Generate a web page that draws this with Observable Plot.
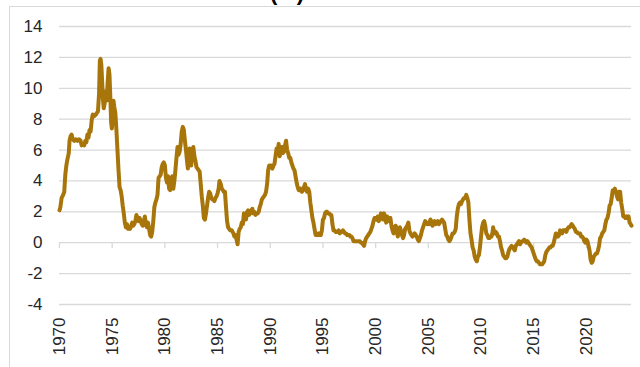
<!DOCTYPE html>
<html>
<head>
<meta charset="utf-8">
<script src="https://cdn.jsdelivr.net/npm/d3@7"></script>
<script src="https://cdn.jsdelivr.net/npm/@observablehq/plot@0.6"></script>
<style>
  html, body { margin: 0; padding: 0; background: #fff; }
  #wrap { position: relative; width: 640px; height: 367px; overflow: hidden; font-family: "Liberation Sans", Arial, sans-serif; }
  #frame { position: absolute; left: 9px; top: 6px; width: 800px; height: 500px; border-top: 1px solid #d9d9d9; border-left: 1px solid #d9d9d9; }
  #title { position: absolute; left: 187px; width: 200px; top: -18.5px; text-align: center; font-weight: bold; font-size: 22px; line-height: 22px; color: #000; }
  #chart { position: absolute; left: 0; top: 0; }
</style>
</head>
<body>
<div id="wrap">
  <div id="frame"></div>
  <div id="title">(%)</div>
  <div id="chart"></div>
</div>
<script>
const titleText = "(%)";
const xTicks = [1970, 1975, 1980, 1985, 1990, 1995, 2000, 2005, 2010, 2015, 2020];
const yTicks = [-4, -2, 0, 2, 4, 6, 8, 10, 12, 14];

const years = [
1970.0,1970.08,1970.2,1970.35,1970.45,1970.55,1970.65,1970.75,1970.88,1970.95,
1971.05,1971.15,1971.25,1971.4,1971.55,1971.7,1971.85,1972.0,1972.1,1972.2,
1972.35,1972.45,1972.55,1972.65,1972.75,1972.85,1972.95,1973.05,1973.15,1973.3,
1973.45,1973.55,1973.65,1973.75,1973.83,1973.9,1973.97,1974.05,1974.12,1974.2,
1974.28,1974.38,1974.48,1974.58,1974.66,1974.74,1974.82,1974.9,1974.97,1975.05,
1975.12,1975.2,1975.3,1975.4,1975.5,1975.6,1975.7,1975.8,1975.9,1976.0,
1976.1,1976.2,1976.3,1976.4,1976.5,1976.6,1976.7,1976.8,1976.9,1977.0,
1977.1,1977.2,1977.3,1977.4,1977.5,1977.6,1977.7,1977.8,1977.9,1978.0,
1978.1,1978.2,1978.3,1978.4,1978.5,1978.6,1978.7,1978.8,1978.9,1979.0,
1979.1,1979.2,1979.3,1979.4,1979.5,1979.6,1979.7,1979.8,1979.9,1980.0,
1980.1,1980.2,1980.3,1980.4,1980.5,1980.6,1980.7,1980.8,1980.9,1981.0,
1981.1,1981.2,1981.3,1981.4,1981.5,1981.6,1981.7,1981.8,1981.9,1982.0,
1982.1,1982.18,1982.26,1982.34,1982.42,1982.5,1982.6,1982.7,1982.8,1982.9,
1983.0,1983.1,1983.2,1983.3,1983.4,1983.5,1983.6,1983.7,1983.8,1983.9,
1984.0,1984.1,1984.2,1984.3,1984.4,1984.5,1984.6,1984.7,1984.8,1984.9,
1985.0,1985.1,1985.18,1985.3,1985.4,1985.5,1985.6,1985.7,1985.8,1985.9,
1986.0,1986.1,1986.2,1986.35,1986.5,1986.6,1986.7,1986.8,1986.9,1987.0,
1987.1,1987.2,1987.3,1987.4,1987.5,1987.6,1987.7,1987.8,1987.9,1988.0,
1988.1,1988.2,1988.3,1988.4,1988.5,1988.6,1988.7,1988.8,1988.9,1989.0,
1989.1,1989.2,1989.3,1989.4,1989.5,1989.6,1989.7,1989.8,1989.9,1990.0,
1990.1,1990.2,1990.3,1990.4,1990.5,1990.6,1990.7,1990.8,1990.9,1991.0,
1991.1,1991.2,1991.3,1991.4,1991.5,1991.6,1991.7,1991.8,1991.9,1992.0,
1992.1,1992.2,1992.3,1992.4,1992.5,1992.6,1992.7,1992.8,1992.9,1993.0,
1993.1,1993.2,1993.3,1993.4,1993.5,1993.6,1993.7,1993.8,1993.9,1994.0,
1994.1,1994.2,1994.3,1994.4,1994.5,1994.6,1994.7,1994.8,1994.9,1995.0,
1995.1,1995.2,1995.3,1995.4,1995.5,1995.6,1995.7,1995.8,1995.9,1996.0,
1996.1,1996.2,1996.3,1996.4,1996.5,1996.6,1996.7,1996.8,1996.9,1997.0,
1997.1,1997.2,1997.3,1997.4,1997.5,1997.6,1997.7,1997.8,1997.9,1998.0,
1998.1,1998.2,1998.3,1998.4,1998.5,1998.6,1998.7,1998.8,1998.9,1999.0,
1999.1,1999.2,1999.3,1999.4,1999.5,1999.6,1999.7,1999.8,1999.9,2000.0,
2000.1,2000.2,2000.3,2000.4,2000.5,2000.6,2000.7,2000.8,2000.9,2001.0,
2001.1,2001.2,2001.3,2001.4,2001.5,2001.6,2001.7,2001.8,2001.9,2002.0,
2002.1,2002.2,2002.3,2002.4,2002.5,2002.6,2002.7,2002.8,2002.9,2003.0,
2003.1,2003.2,2003.3,2003.4,2003.5,2003.6,2003.7,2003.8,2003.9,2004.0,
2004.1,2004.2,2004.3,2004.4,2004.5,2004.6,2004.7,2004.8,2004.9,2005.0,
2005.1,2005.2,2005.3,2005.4,2005.5,2005.6,2005.7,2005.8,2005.9,2006.0,
2006.1,2006.2,2006.3,2006.4,2006.5,2006.6,2006.7,2006.8,2006.9,2007.0,
2007.1,2007.2,2007.3,2007.4,2007.5,2007.6,2007.7,2007.8,2007.9,2008.0,
2008.1,2008.2,2008.3,2008.4,2008.5,2008.6,2008.7,2008.8,2008.9,2009.0,
2009.1,2009.2,2009.3,2009.4,2009.5,2009.6,2009.7,2009.8,2009.9,2010.0,
2010.1,2010.2,2010.3,2010.4,2010.5,2010.6,2010.7,2010.8,2010.9,2011.0,
2011.1,2011.15,2011.2,2011.3,2011.4,2011.5,2011.6,2011.7,2011.8,2011.9,
2012.0,2012.1,2012.2,2012.3,2012.4,2012.5,2012.6,2012.7,2012.8,2012.9,
2013.0,2013.1,2013.2,2013.3,2013.4,2013.5,2013.6,2013.7,2013.8,2013.9,
2014.0,2014.1,2014.2,2014.3,2014.4,2014.5,2014.6,2014.7,2014.8,2014.9,
2015.0,2015.1,2015.2,2015.3,2015.4,2015.5,2015.6,2015.7,2015.8,2015.9,
2016.0,2016.1,2016.2,2016.3,2016.4,2016.5,2016.6,2016.7,2016.8,2016.9,
2017.0,2017.1,2017.2,2017.3,2017.4,2017.5,2017.6,2017.7,2017.8,2017.9,
2018.0,2018.1,2018.2,2018.3,2018.4,2018.5,2018.6,2018.7,2018.8,2018.9,
2019.0,2019.1,2019.2,2019.3,2019.4,2019.5,2019.6,2019.7,2019.8,2019.9,
2020.0,2020.1,2020.2,2020.3,2020.4,2020.5,2020.6,2020.7,2020.8,2020.9,
2021.0,2021.1,2021.2,2021.3,2021.4,2021.5,2021.6,2021.7,2021.8,2021.9,
2022.0,2022.1,2022.2,2022.3,2022.4,2022.5,2022.6,2022.7,2022.8,2022.9,
2023.0,2023.1,2023.2,2023.3,2023.4,2023.5,2023.6,2023.7,2023.8,2023.9,
2024.0,2024.1,2024.2,2024.28
];

const cpi = [
2.1,2.3,2.9,3.1,3.3,4.4,5.0,5.4,5.8,6.6,
6.9,7.0,6.7,6.6,6.7,6.6,6.7,6.6,6.3,6.4,
6.3,6.6,6.5,7.0,6.8,7.3,7.2,7.9,8.3,8.2,
8.3,8.4,8.5,9.6,11.8,11.9,11.5,10.4,9.3,8.7,
9.0,9.8,9.2,10.5,11.3,10.9,9.5,7.8,7.4,8.2,
9.2,8.8,8.4,7.3,6.0,4.7,3.6,3.4,3.0,2.4,
1.9,1.3,1.0,1.2,0.9,1.0,0.9,1.1,1.3,1.1,
1.2,1.4,1.8,1.6,1.4,1.6,1.4,1.2,1.1,1.4,
1.7,1.2,1.0,1.3,0.9,0.5,0.4,0.7,1.4,2.3,
2.6,2.8,3.1,4.2,4.3,4.4,4.9,5.1,5.2,5.0,
4.2,3.9,4.3,3.5,3.4,4.1,4.3,3.5,4.0,4.7,
5.5,6.2,5.7,5.9,6.4,7.2,7.5,7.3,6.6,6.0,
5.3,4.8,5.7,6.1,5.6,5.0,5.9,6.2,5.6,5.3,
4.9,4.8,4.7,4.6,3.8,3.0,2.4,1.6,1.5,1.9,
2.4,2.9,3.3,3.2,2.9,2.8,2.8,2.7,2.9,3.0,
3.2,3.5,4.0,3.8,3.5,3.4,3.3,3.3,2.3,1.4,
1.0,0.9,0.8,0.8,0.6,0.4,0.5,0.2,-0.1,0.7,
0.9,1.0,1.3,1.2,1.9,1.8,1.5,2.0,2.1,1.8,
1.9,2.1,2.2,1.9,2.0,1.8,1.9,1.9,2.0,2.3,
2.5,2.8,2.9,3.0,3.1,3.3,3.8,4.7,5.0,4.9,
5.0,4.8,5.0,5.1,5.6,6.1,5.9,6.4,5.6,6.0,
6.2,5.8,5.9,6.3,6.6,6.0,5.8,5.5,5.5,5.2,
5.0,4.8,4.7,4.3,3.9,3.6,3.4,3.4,3.5,3.3,
3.4,3.6,3.8,3.4,3.3,3.5,3.3,2.6,2.1,1.6,
1.3,0.9,0.5,0.5,0.5,0.6,0.5,0.5,0.8,1.5,
1.6,1.9,2.0,2.0,1.9,1.9,1.8,1.8,1.2,0.8,
0.8,0.7,0.7,0.7,0.8,0.6,0.7,0.7,0.8,0.7,
0.6,0.6,0.5,0.5,0.5,0.4,0.4,0.3,0.1,0.1,
0.1,0.1,0.1,0.1,0.1,0.0,0.0,-0.1,-0.2,0.1,
0.3,0.4,0.5,0.6,0.7,0.9,1.1,1.4,1.6,1.6,
1.5,1.7,1.4,1.6,1.9,1.7,1.5,1.9,1.7,1.3,
1.7,1.5,1.4,1.6,1.1,0.8,0.6,0.9,1.1,0.9,
0.4,0.7,1.0,0.8,0.5,0.3,0.5,0.9,1.0,1.1,
1.3,0.8,0.6,0.5,0.4,0.5,0.6,0.5,0.4,0.2,
0.1,0.3,0.5,0.8,1.0,1.2,1.4,1.3,1.2,1.3,
1.2,1.5,1.4,1.1,1.3,1.4,1.2,1.3,1.4,1.2,
1.3,1.4,1.5,1.4,1.3,0.9,0.5,0.4,0.2,0.1,
0.2,0.4,0.6,0.6,0.7,0.9,1.7,2.2,2.5,2.6,
2.5,2.7,2.8,2.9,2.9,3.1,2.9,2.6,1.5,0.6,
0.2,-0.3,-0.5,-0.9,-1.1,-1.2,-0.9,-0.8,-0.3,0.4,
1.0,1.3,1.4,1.1,0.6,0.5,0.3,0.3,0.4,0.4,
0.7,1.0,0.8,0.6,0.7,0.6,0.4,0.4,0.1,-0.3,
-0.5,-0.8,-0.9,-1.0,-1.0,-0.9,-0.6,-0.4,-0.3,-0.2,
-0.3,-0.4,-0.5,-0.2,-0.1,0.0,0.1,-0.1,0.0,0.1,
0.1,0.2,0.1,0.0,0.1,0.0,-0.1,-0.2,-0.3,-0.5,
-0.7,-0.9,-1.1,-1.2,-1.2,-1.3,-1.4,-1.4,-1.4,-1.3,
-1.2,-0.8,-0.6,-0.5,-0.4,-0.3,-0.3,-0.2,-0.2,0.0,
0.3,0.6,0.5,0.4,0.5,0.8,0.7,0.6,0.8,0.8,
0.8,0.7,0.9,1.0,1.0,1.1,1.2,1.1,1.0,0.9,
0.7,0.7,0.6,0.6,0.6,0.4,0.4,0.3,0.1,0.0,
0.2,0.1,-0.2,-0.5,-1.1,-1.3,-1.2,-0.9,-0.8,-0.7,
-0.7,-0.5,-0.2,0.3,0.4,0.6,0.7,0.8,1.2,1.5,
1.6,1.9,2.4,2.5,2.9,3.4,3.4,3.5,3.3,3.0,
2.8,3.3,3.3,2.6,2.2,1.7,1.7,1.6,1.7,1.6,
1.7,1.3,1.2,1.1
];

const chart = Plot.plot({
  width: 640,
  height: 367,
  marginLeft: 59,
  marginRight: 9,
  marginTop: 26,
  marginBottom: 63,
  style: { fontFamily: "'Liberation Sans', Arial, sans-serif", fontSize: "17px", color: "#262626", background: "transparent" },
  x: { domain: [years[0], years[years.length - 1]], label: null },
  y: { domain: [-4, 14], label: null },
  marks: [
    Plot.ruleY(yTicks, { stroke: "#d9d9d9", strokeWidth: 1.3 }),
    Plot.ruleX(xTicks, { x: d => d, y1: 0, y2: -0.39, stroke: "#d9d9d9", strokeWidth: 1.3 }),
    Plot.axisY(yTicks, { tickSize: 0, tickPadding: 17, tickFormat: d => String(d), label: null }),
    Plot.axisX(xTicks, { tickSize: 0, tickPadding: 13, tickRotate: -90, tickFormat: d => String(d), label: null }),
    Plot.lineY(cpi, { x: years, stroke: "#A8750A", strokeWidth: 4, strokeLinejoin: "round", strokeLinecap: "round" })
  ]
});
document.getElementById("chart").appendChild(chart);
document.getElementById("title").textContent = titleText;
</script>
</body>
</html>
